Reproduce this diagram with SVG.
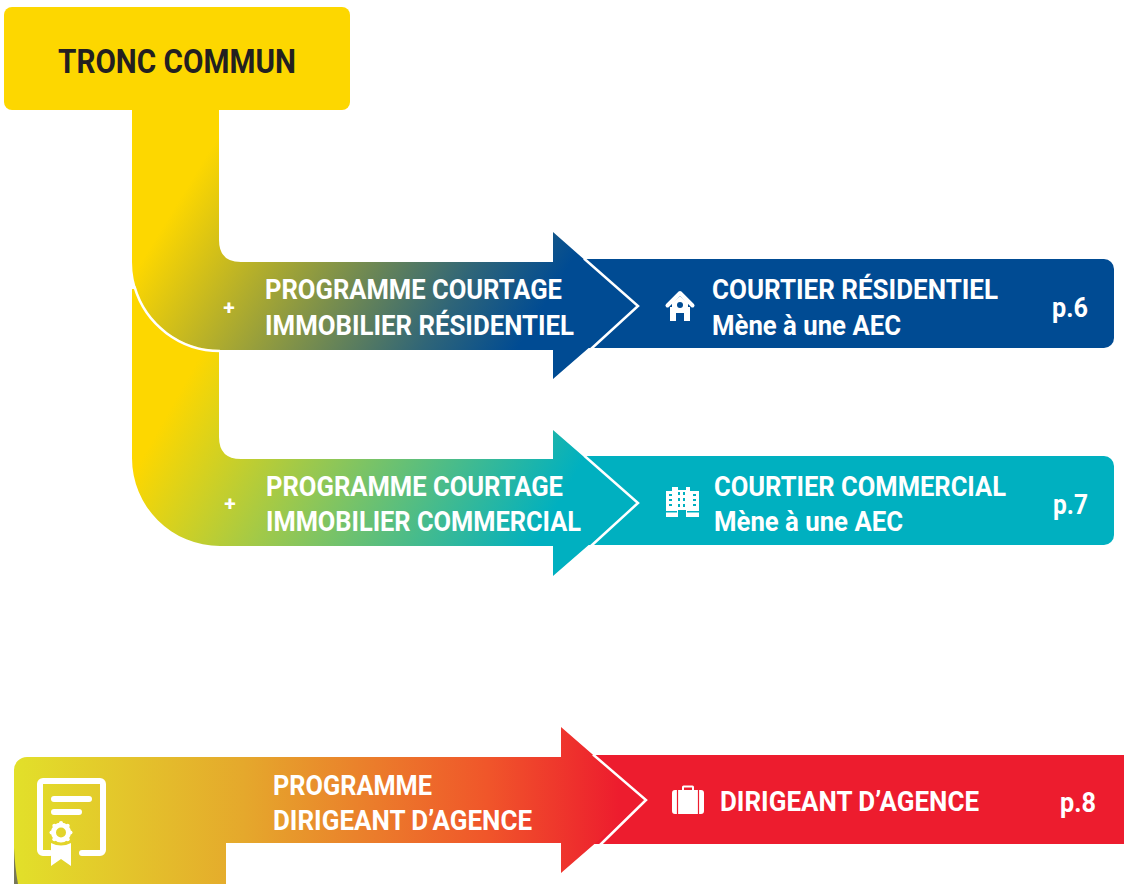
<svg xmlns="http://www.w3.org/2000/svg" width="1124" height="884" viewBox="0 0 1124 884">
<style>
text{font-family:"Roboto","Liberation Sans",sans-serif;font-weight:700;fill:#fff;font-size:27.500px}
.t{fill:#231f20;font-size:33px}
.plus{font-size:21px;text-anchor:middle}
.ic{fill:#fff}
.ln{fill:none;stroke:#fff;stroke-linecap:round}
.edge{fill:none;stroke:#fff;stroke-width:2.500}
</style>
<defs>
<linearGradient id="g1" gradientUnits="userSpaceOnUse" x1="168" y1="218" x2="480" y2="410"><stop offset="0" stop-color="#fdd700"/><stop offset=".78" stop-color="#2f6578"/><stop offset="1" stop-color="#004b93"/></linearGradient>
<linearGradient id="g2" gradientUnits="userSpaceOnUse" x1="155" y1="435" x2="490" y2="625"><stop offset="0" stop-color="#fdd700"/><stop offset=".45" stop-color="#8cc659"/><stop offset="1" stop-color="#00b0c0"/></linearGradient>
<linearGradient id="g3" gradientUnits="userSpaceOnUse" x1="14" y1="800" x2="620" y2="800"><stop offset="0" stop-color="#e2e02a"/><stop offset=".38" stop-color="#e5a82c"/><stop offset=".78" stop-color="#f0562a"/><stop offset="1" stop-color="#ed1c2e"/></linearGradient>
</defs>
<g id="courtier-residentiel">
<path d="M570 259H1104a10 10 0 0 1 10 10V338a10 10 0 0 1-10 10H570Z" fill="#004b93"/>
<path class="ic" d="M670 307H690V321H684V313H676V321H670Z"/>
<path d="M667.500 305.500L680 293L692.500 305.500" fill="none" stroke="#fff" stroke-width="4" stroke-linecap="round" stroke-linejoin="round"/>
<path class="ic" d="M672 303L680 296L688 303V308H672Z"/>
<circle cx="680" cy="305" r="3" fill="#004b93"/>
<text x="712" y="299" textLength="286" lengthAdjust="spacingAndGlyphs">COURTIER RÉSIDENTIEL</text>
<text x="712" y="335" textLength="189" lengthAdjust="spacingAndGlyphs">Mène à une AEC</text>
<text x="1052" y="317" textLength="36" lengthAdjust="spacingAndGlyphs">p.6</text>
</g>
<g id="courtier-commercial">
<path d="M570 456H1104a10 10 0 0 1 10 10V535a10 10 0 0 1-10 10H570Z" fill="#00b0c0"/>
<path class="ic" d="M666 491H672V487H678V490H686V487H690V491H699V517H686V510H678V517H666Z"/>
<g fill="#00b0c0"><rect x="669" y="494" width="3" height="2"/><rect x="669" y="499" width="3" height="2"/><rect x="669" y="504" width="3" height="2"/><rect x="693" y="494" width="3" height="2"/><rect x="693" y="499" width="3" height="2"/><rect x="693" y="504" width="3" height="2"/><rect x="678" y="492" width="2" height="3"/><rect x="683" y="492" width="2" height="3"/><rect x="678" y="498" width="2" height="3"/><rect x="683" y="498" width="2" height="3"/><rect x="678" y="504" width="2" height="3"/><rect x="683" y="504" width="2" height="3"/><rect x="666" y="511" width="11" height="1.500"/><rect x="687" y="511" width="12" height="1.500"/></g>
<text x="714" y="496" textLength="292" lengthAdjust="spacingAndGlyphs">COURTIER COMMERCIAL</text>
<text x="714" y="531" textLength="189" lengthAdjust="spacingAndGlyphs">Mène à une AEC</text>
<text x="1053" y="514" textLength="35" lengthAdjust="spacingAndGlyphs">p.7</text>
</g>
<g id="dirigeant-agence">
<path d="M580 755H1124V844H580Z" fill="#ed1c2e"/>
<path class="ic" d="M672 793a3 3 0 0 1 3-3H682V787a1.500 1.500 0 0 1 1.500-1.500H692.500A1.500 1.500 0 0 1 694 787V790H701a3 3 0 0 1 3 3V811a3 3 0 0 1-3 3H675a3 3 0 0 1-3-3ZM684 790H692V787.500H684Z"/>
<path d="M677.500 790V814M698.500 790V814" stroke="#ed1c2e" stroke-width="1.200"/>
<text x="720" y="811" textLength="259" lengthAdjust="spacingAndGlyphs">DIRIGEANT D’AGENCE</text>
<text x="1060" y="812" textLength="36" lengthAdjust="spacingAndGlyphs">p.8</text>
</g>
<g id="connectors">
<path d="M132 289H219V437Q219 459 241 459H553V430L637 503L553 576V546H220A88 88 0 0 1 132 458Z" fill="url(#g2)"/>
<path d="M219 100V240Q219 262 241 262H553V232L637 306L553 379V350H220A88 88 0 0 1 132 262V100Z" fill="url(#g1)"/>
<path class="edge" d="M134.500 286.700A89 89 0 0 0 220 351"/>
<path class="edge" d="M584 258.500L638 306L591 349"/>
<path class="edge" d="M584 455.500L638 503L591 546"/>
<path d="M14 770a13 13 0 0 1 13-13H561V727L645 800L561 873V843H226V884H14Z" fill="url(#g3)"/>
<path class="edge" d="M593 754.500L646 800L600 845"/>
<path d="M14 848Q15 868 18 884H14Z" fill="#77775a"/>
</g>
<g id="tronc-commun">
<rect x="4" y="7" width="346" height="103" rx="8" fill="#fdd700"/>
<text class="t" x="58" y="73" textLength="238" lengthAdjust="spacingAndGlyphs">TRONC COMMUN</text>
</g>
<g id="programme-residentiel">
<text class="plus" x="229" y="315">+</text>
<text x="265" y="299" textLength="297" lengthAdjust="spacingAndGlyphs">PROGRAMME COURTAGE</text>
<text x="265" y="335" textLength="309" lengthAdjust="spacingAndGlyphs">IMMOBILIER RÉSIDENTIEL</text>
</g>
<g id="programme-commercial">
<text class="plus" x="230" y="511">+</text>
<text x="266" y="496" textLength="297" lengthAdjust="spacingAndGlyphs">PROGRAMME COURTAGE</text>
<text x="266" y="531" textLength="315" lengthAdjust="spacingAndGlyphs">IMMOBILIER COMMERCIAL</text>
</g>
<g id="programme-dirigeant">
<path class="ln" stroke-width="6" d="M82 853H100a3 3 0 0 0 3-3V784a3 3 0 0 0-3-3H43a3 3 0 0 0-3 3V850a3 3 0 0 0 3 3H50"/>
<path class="ln" stroke-width="6" d="M54 799H89M54 812H79"/>
<path class="ic" d="M51 843Q61 848 71 843V866L61 859L51 866Z"/>
<circle cx="61" cy="832.500" r="7.500" fill="none" stroke="#fff" stroke-width="5"/>
<g class="ic"><circle cx="61" cy="823" r="2"/><circle cx="67.700" cy="825.800" r="2"/><circle cx="70.500" cy="832.500" r="2"/><circle cx="67.700" cy="839.200" r="2"/><circle cx="54.300" cy="825.800" r="2"/><circle cx="51.500" cy="832.500" r="2"/><circle cx="54.300" cy="839.200" r="2"/></g>
<text x="273" y="795" textLength="159" lengthAdjust="spacingAndGlyphs">PROGRAMME</text>
<text x="273" y="830" textLength="259" lengthAdjust="spacingAndGlyphs">DIRIGEANT D’AGENCE</text>
</g>
</svg>
